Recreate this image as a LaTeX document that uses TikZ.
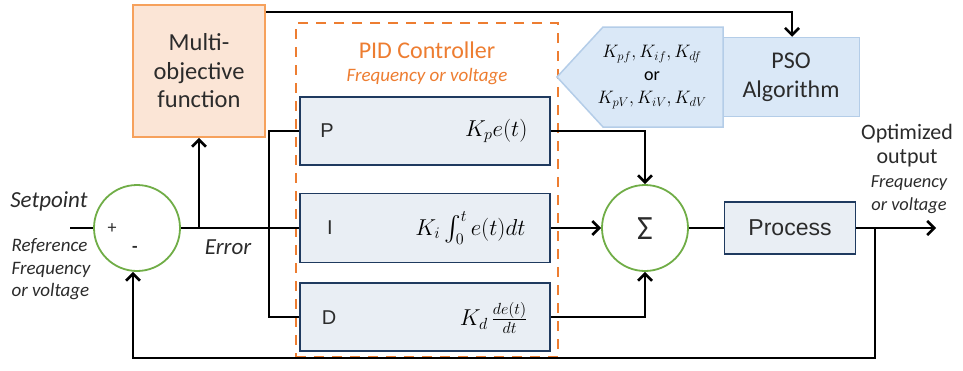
\RequirePackage{fix-cm}
\documentclass[tikz,border=0pt]{standalone}
\usepackage{exscale}
\usepackage{fontspec}
\setmainfont{Carlito}
\newfontfamily\arialfont{Liberation Sans}
\usetikzlibrary{arrows.meta}
\definecolor{orline}{HTML}{ED7D31}
\definecolor{orbox}{HTML}{F6A15C}
\definecolor{orfill}{HTML}{FBE5D6}
\definecolor{greenc}{HTML}{70AD47}
\definecolor{blkfill}{HTML}{E9EEF4}
\definecolor{blkdraw}{HTML}{1F3A5F}
\definecolor{psofill}{HTML}{DAE8F7}
\definecolor{psodraw}{HTML}{B4CDE8}
\definecolor{txtgrey}{HTML}{2B2B2B}
\tikzset{
  conn/.style={line width=2.6pt,black},
  arr/.style={conn,-{Straight Barb[length=7pt,width=14pt,line width=2.6pt]}},
  sumc/.style={circle,draw=greenc,line width=1.8pt,minimum size=86pt,inner sep=0pt},
  blk/.style={draw=blkdraw,fill=blkfill,line width=1.8pt,minimum width=250pt,minimum height=68pt},
  lbl/.style={font=\arialfont\fontsize{20}{22}\selectfont,text=txtgrey},
  mth/.style={font=\fontsize{23}{26}\selectfont,anchor=east},
  itl/.style={font=\itshape\fontsize{19}{22.5}\selectfont,text=txtgrey}
}
\begin{document}
\begin{tikzpicture}[x=1pt,y=-1pt]
\useasboundingbox (0,0) rectangle (963,370);
% PID dashed container
\node[draw=orline,dash pattern=on 10pt off 8pt,line width=2.8pt,minimum width=262pt,minimum height=334pt] (pid) at (427,190) {};
\node[text=orline,font=\fontsize{24}{26}\selectfont] (pidt) at (427,50) {PID Controller};
\node[text=orline,font=\itshape\fontsize{19}{21}\selectfont] (pidf) at (427,77) {Frequency or voltage};
% Multi-objective
\node[draw=orbox,fill=orfill,line width=1.8pt,minimum width=132pt,minimum height=132pt,align=center,text=txtgrey,font=\fontsize{24.5}{28.5}\selectfont] (multi) at (199,71) {Multi-\\objective\\function};
% PID blocks
\node[blk] (P) at (425,131) {};
\node[blk,minimum height=69pt] (I) at (425,228) {};
\node[blk] (D) at (425,317) {};
\node[lbl] (Pl) at (327,131) {P};
\node[lbl] (Il) at (330,228) {I};
\node[lbl] (Dl) at (329,318) {D};
\node[mth] (Pm) at (531,131) {$K_p e(t)$};
\node[mth] (Im) at (529,228) {$K_i \int_0^t e(t)dt$};
\node[mth] (Dm) at (531,318) {$K_d\,\frac{de(t)}{dt}$};
% Sum circles
\node[sumc] (s1) at (137,228) {};
\node[font=\fontsize{18}{20}\selectfont,text=txtgrey] (plus) at (112,229) {+};
\node[font=\bfseries\fontsize{18}{20}\selectfont,text=txtgrey] (minus) at (135,249) {-};
\node[sumc] (sig) at (645,228) {};
\node[font=\fontsize{34}{36}\selectfont,text=txtgrey] (sigt) at (645,229) {Σ};
% Process
\node[draw=blkdraw,fill=blkfill,line width=1.8pt,minimum width=131pt,minimum height=52pt,font=\arialfont\fontsize{23}{26}\selectfont,text=txtgrey] (proc) at (790,228) {Process};
% PSO and gains pentagon
\node[draw=psodraw,fill=psofill,line width=1.5pt,minimum width=137pt,minimum height=79pt,align=center,font=\fontsize{24}{29}\selectfont,text=txtgrey] (pso) at (791,77) {PSO\\Algorithm};
\filldraw[draw=psodraw,fill=psofill,line width=1.5pt] (557,77) -- (603,27) -- (723,27) -- (723,127) -- (603,127) -- cycle;
\node[align=center,font=\fontsize{18}{23}\selectfont,text=black] (gains) at (652,77) {$K_{pf},K_{if},K_{df}$\\or\\$K_{pV},K_{iV},K_{dV}$};
% Texts
\node[font=\itshape\fontsize{23}{26}\selectfont,text=txtgrey,anchor=east] (setp) at (91,201) {Setpoint};
\node[itl,align=left,anchor=north west] (ref) at (8,235) {Reference\\Frequency\\or voltage};
\node[font=\itshape\fontsize{23}{25}\selectfont,text=txtgrey] (err) at (228,247) {Error};
\node[align=center,font=\fontsize{22}{24}\selectfont,text=txtgrey] (opt) at (907,146) {Optimized\\output};
\node[align=center,font=\itshape\fontsize{18.4}{23}\selectfont,text=txtgrey] (optf) at (909,195) {Frequency\\or voltage};
% Connectors
\coordinate (in) at (70,228);
\draw[conn] (in) -- (s1.west);
\draw[conn] (s1.east) -- (I.west);
\draw[conn] (P.west) -- ++(-30,0) |- (D.west);
\coordinate (eb) at (199,228);
\draw[arr] (eb) -- (multi.south);
\draw[arr] ([yshift=-8pt]multi.north east) -| ([xshift=1pt]pso.north);
\draw[arr] (P.east) -| (sig.north);
\draw[arr] (I.east) -- (sig.west);
\draw[arr] (D.east) -| (sig.south);
\draw[conn] (sig.east) -- (proc.west);
\coordinate (out) at (936,228);
\draw[arr] (proc.east) -- (out);
\coordinate (fb) at (875,228);
\draw[arr] (fb) -- (875,358) -| ([xshift=-4pt]s1.south);
\end{tikzpicture}
\end{document}
